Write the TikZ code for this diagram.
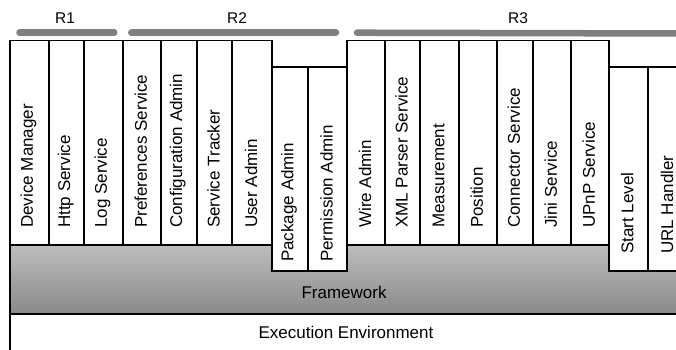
\documentclass[tikz,border=0pt]{standalone}
\usepackage{fontspec}
\setmainfont{Liberation Sans}
\newcommand\svccol[7]{%
  \draw[colline] (#2,#4) rectangle (#3,#5);
  \node[vlab] (#1) at ({(#2+#3)/2-1},#6) {#7};
}
\begin{document}
\begin{tikzpicture}[x=1pt,y=-1pt,
  colline/.style={line width=1.8pt,draw=black},
  vlab/.style={rotate=90,anchor=west,inner sep=0pt,font=\fontsize{17}{20}\selectfont},
  hlab/.style={inner sep=0pt,font=\fontsize{17}{20}\selectfont},
  rlab/.style={inner sep=0pt,font=\fontsize{15.5}{18}\selectfont},
  relbar/.style={line width=6.5pt,line cap=round,draw=black!50}]
\useasboundingbox (0,0) rectangle (676,349);
\clip (0,0) rectangle (676,349);
% framework
\shade[top color=black!26,bottom color=black!46]
  (10,245) -- (271.7,245) -- (271.7,270.7) -- (347,270.7) -- (347,245)
  -- (608.7,245) -- (608.7,270.7) -- (700,270.7) -- (700,314) -- (10,314) -- cycle;
\draw[line width=1.8pt] (10,245) -- (10,314);
% execution environment
\draw[line width=1.8pt] (10,360) -- (10,314);
\draw[line width=2.8pt] (10,314) -- (700,314);
\node[hlab] (fw) at (344,292) {Framework};
\node[hlab] (ee) at (346,332) {Execution Environment};
% release bars
\draw[relbar] (19.5,32.7) -- (114.3,32.7);
\draw[relbar] (131.3,32.7) -- (336,32.7);
\draw[relbar] (357,32.7) -- (690,33.5);
\node[rlab] (r1) at (65,18) {R1};
\node[rlab] (r2) at (237,18) {R2};
\node[rlab] (r3) at (518,18) {R3};
% service columns
\svccol{c1}{10}{49}{40.5}{245}{228}{Device Manager}
\svccol{c2}{49}{84.3}{40.5}{245}{228}{Http Service}
\svccol{c3}{84.3}{122.7}{40.5}{245}{228}{Log Service}
\svccol{c4}{122.7}{160.7}{40.5}{245}{228}{Preferences Service}
\svccol{c5}{160.7}{196.7}{40.5}{245}{228}{Configuration Admin}
\svccol{c6}{196.7}{232.3}{40.5}{245}{228}{Service Tracker}
\svccol{c7}{232.3}{271.7}{40.5}{245}{228}{User Admin}
\svccol{c8}{271.7}{308.3}{66.7}{270.7}{262}{Package Admin}
\svccol{c9}{308.3}{347}{66.7}{270.7}{262}{Permission Admin}
\svccol{c10}{347}{385}{40.5}{245}{228}{Wire Admin}
\svccol{c11}{385}{420.3}{40.5}{245}{228}{XML Parser Service}
\svccol{c12}{420.3}{458.7}{40.5}{245}{228}{Measurement}
\svccol{c13}{458.7}{496.7}{40.5}{245}{228}{Position}
\svccol{c14}{496.7}{532.7}{40.5}{245}{228}{Connector Service}
\svccol{c15}{532.7}{571}{40.5}{245}{228}{Jini Service}
\svccol{c16}{571}{608.7}{40.5}{245}{228}{UPnP Service}
\svccol{c17}{608.7}{648}{66.7}{270.7}{254}{Start Level}
\svccol{c18}{648}{688}{66.7}{270.7}{254}{URL Handler}
\end{tikzpicture}
\end{document}
